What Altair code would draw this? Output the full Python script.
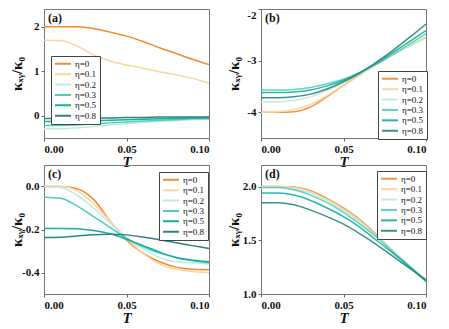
import altair as alt
import pandas as pd

T = [0.00, 0.01, 0.02, 0.03, 0.04, 0.05, 0.06, 0.07, 0.08, 0.09, 0.10]
ETA = ["η=0", "η=0.1", "η=0.2", "η=0.3", "η=0.5", "η=0.8"]
COLORS = ["#F58A2E", "#FDD3A2", "#BFEBDD", "#4CCFBE", "#16AE9E", "#2A857B"]

panel_a = {
    "η=0":   [2.00, 2.00, 2.00, 1.96, 1.88, 1.79, 1.67, 1.53, 1.40, 1.27, 1.15],
    "η=0.1": [1.70, 1.69, 1.57, 1.37, 1.23, 1.14, 1.07, 0.99, 0.92, 0.84, 0.73],
    "η=0.2": [-0.29, -0.29, -0.27, -0.24, -0.21, -0.18, -0.15, -0.13, -0.11, -0.09, -0.08],
    "η=0.3": [-0.22, -0.22, -0.21, -0.18, -0.16, -0.14, -0.12, -0.10, -0.09, -0.07, -0.06],
    "η=0.5": [-0.13, -0.13, -0.12, -0.11, -0.10, -0.09, -0.08, -0.07, -0.06, -0.05, -0.05],
    "η=0.8": [-0.06, -0.06, -0.06, -0.05, -0.05, -0.04, -0.04, -0.03, -0.03, -0.03, -0.02],
}
panel_b = {
    "η=0":   [-4.00, -4.00, -3.99, -3.90, -3.70, -3.48, -3.27, -3.07, -2.88, -2.71, -2.55],
    "η=0.1": [-4.00, -3.99, -3.95, -3.85, -3.68, -3.48, -3.28, -3.08, -2.89, -2.71, -2.55],
    "η=0.2": [-3.80, -3.80, -3.77, -3.70, -3.58, -3.43, -3.26, -3.07, -2.89, -2.72, -2.56],
    "η=0.3": [-3.57, -3.57, -3.56, -3.52, -3.45, -3.36, -3.23, -3.07, -2.88, -2.68, -2.48],
    "η=0.5": [-3.62, -3.62, -3.61, -3.57, -3.49, -3.38, -3.23, -3.05, -2.84, -2.63, -2.42],
    "η=0.8": [-3.72, -3.72, -3.70, -3.65, -3.55, -3.41, -3.24, -3.03, -2.80, -2.55, -2.29],
}
panel_c = {
    "η=0":   [0.000, 0.000, -0.010, -0.060, -0.160, -0.250, -0.310, -0.350, -0.375, -0.385, -0.387],
    "η=0.1": [0.000, 0.000, -0.020, -0.080, -0.160, -0.240, -0.310, -0.360, -0.385, -0.395, -0.400],
    "η=0.2": [0.000, -0.005, -0.040, -0.100, -0.170, -0.240, -0.290, -0.330, -0.350, -0.355, -0.360],
    "η=0.3": [-0.050, -0.055, -0.090, -0.140, -0.190, -0.240, -0.280, -0.310, -0.330, -0.345, -0.355],
    "η=0.5": [-0.195, -0.195, -0.197, -0.205, -0.220, -0.245, -0.275, -0.305, -0.330, -0.343, -0.350],
    "η=0.8": [-0.237, -0.236, -0.230, -0.224, -0.222, -0.225, -0.235, -0.248, -0.262, -0.275, -0.288],
}
panel_d = {
    "η=0":   [2.00, 2.00, 1.995, 1.96, 1.89, 1.80, 1.69, 1.55, 1.40, 1.26, 1.13],
    "η=0.1": [2.00, 2.00, 1.99, 1.95, 1.88, 1.79, 1.68, 1.54, 1.40, 1.26, 1.12],
    "η=0.2": [1.99, 1.99, 1.98, 1.94, 1.87, 1.78, 1.67, 1.54, 1.40, 1.26, 1.12],
    "η=0.3": [1.99, 1.99, 1.97, 1.92, 1.85, 1.76, 1.65, 1.53, 1.39, 1.26, 1.12],
    "η=0.5": [1.94, 1.94, 1.92, 1.87, 1.80, 1.72, 1.62, 1.50, 1.38, 1.25, 1.12],
    "η=0.8": [1.85, 1.85, 1.83, 1.78, 1.72, 1.65, 1.56, 1.46, 1.35, 1.24, 1.13],
}

YTITLE = "κₓᵧ/κ₀"
FONT = "Liberation Serif"


def to_long(d):
    rows = []
    for k in ETA:
        for t, v in zip(T, d[k]):
            rows.append({"T": t, "v": v, "eta": k})
    return pd.DataFrame(rows)


def panel(d, label, ydomain, yticks, fmt, legx, legy, flush=False, opacity=1.0):
    df = to_long(d)
    lines = alt.Chart(df).mark_line(strokeWidth=1.5, interpolate="monotone", clip=True, opacity=opacity).encode(
        x=alt.X("T:Q", scale=alt.Scale(domain=[0, 0.1], nice=False),
                axis=alt.Axis(values=[0, 0.05, 0.1], format=".2f", title="T",
                              titleFontStyle="italic", titlePadding=0)),
        y=alt.Y("v:Q", scale=alt.Scale(domain=ydomain, nice=False, zero=False),
                axis=alt.Axis(values=yticks,
                              labelExpr="replace(format(datum.value, '" + fmt + "'), '\u2212', '-')",
                              title=YTITLE, titleX=-20, labelFlush=flush)),
        color=alt.Color("eta:N", scale=alt.Scale(domain=ETA, range=COLORS),
                        legend=alt.Legend(orient="none", legendX=legx, legendY=legy, title=None,
                                          symbolType="stroke", symbolSize=256, symbolStrokeWidth=2,
                                          clipHeight=9.5, rowPadding=0.4,
                                          labelFont=FONT, labelFontSize=9, labelColor="#111",
                                          padding=3, strokeColor="#444",
                                          fillColor="white", labelOffset=3)),
    )
    lab = alt.Chart(pd.DataFrame({"lab": [label]})).mark_text(
        align="left", baseline="middle", font=FONT, fontWeight="bold", fontSize=12, color="#111"
    ).encode(x=alt.value(4), y=alt.value(9), text="lab:N")
    return alt.layer(lines, lab).properties(width=165, height=129)


a = panel(panel_a, "(a)", [-0.5, 2.4], [0, 1, 2], "d", 7, 47)
b = panel(panel_b, "(b)", [-4.5, -2.0], [-4, -3, -2], "d", 117, 62, flush=True, opacity=0.9)
c = panel(panel_c, "(c)", [-0.5, 0.1], [-0.4, -0.2, 0.0], ".1f", 115, 7)
d = panel(panel_d, "(d)", [1.0, 2.2], [1.0, 1.5, 2.0], ".1f", 116, 6, opacity=0.9)

chart = alt.concat(a, b, c, d, columns=2, spacing={"row": 27, "column": 52},
                   bounds="flush").resolve_scale(color="independent")

chart = chart.properties(padding=0).configure_axis(
    labelFont=FONT, labelFontWeight="bold", labelFontSize=11, labelColor="#111",
    titleFont=FONT, titleFontWeight="bold", titleFontSize=15, titleColor="#111",
    domain=False, grid=False, tickColor="#666", tickSize=3, labelPadding=2,
).configure_legend(labelFont=FONT).configure_view(stroke="#777", strokeWidth=1)

chart.save("out.html", embed_options={"renderer": "svg", "actions": False})
